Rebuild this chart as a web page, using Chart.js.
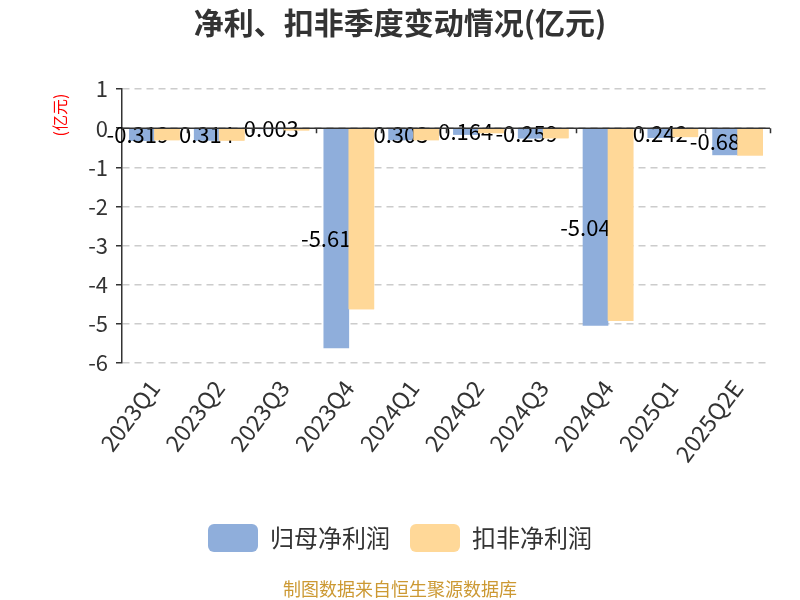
<!DOCTYPE html>
<html><head><meta charset="utf-8">
<script src="https://cdn.jsdelivr.net/npm/chart.js@4/dist/chart.umd.min.js"></script>
<style>html,body{margin:0;padding:0;background:#fff}canvas{display:block}</style>
</head><body>
<canvas id="c" width="800" height="600"></canvas>
<script>
const categories = ['2023Q1','2023Q2','2023Q3','2023Q4','2024Q1','2024Q2','2024Q3','2024Q4','2025Q1','2025Q2E'];
const netProfit = [-0.319,-0.314,-0.003,-5.613,-0.303,-0.164,-0.259,-5.042,-0.242,-0.683];
const deductedProfit = [-0.30,-0.31,-0.05,-4.62,-0.30,-0.12,-0.25,-4.92,-0.22,-0.69];
const yTicks = [1,0,-1,-2,-3,-4,-5,-6];
const seriesNames = ['归母净利润','扣非净利润'];

const FONT = '"Noto Sans CJK SC", "Noto Sans", sans-serif';

const extras = {
  id: 'extras',
  afterDatasetsDraw(chart) {
    const ctx = chart.ctx;
    const area = chart.chartArea;
    const y = chart.scales.y;
    const y0 = y.getPixelForValue(0);
    // value labels on blue bars
    const meta = chart.getDatasetMeta(0);
    ctx.save();
    ctx.font = '22px ' + FONT;
    ctx.fillStyle = '#000';
    ctx.textAlign = 'center';
    ctx.textBaseline = 'middle';
    meta.data.forEach((bar, i) => {
      const yy = (bar.y + bar.base) / 2;
      ctx.fillText(netProfit[i].toFixed(3), bar.x - 4, yy);
    });
    ctx.restore();
    // redraw orange bars on top of labels
    chart.getDatasetMeta(1).controller.draw();
    // x axis line at zero
    ctx.save();
    ctx.strokeStyle = '#333';
    ctx.lineWidth = 1.5;
    ctx.beginPath();
    ctx.moveTo(area.left, y0);
    ctx.lineTo(area.right, y0);
    const n = categories.length;
    const step = (area.right - area.left) / n;
    for (let i = 1; i <= n; i++) {
      const px = Math.round(area.left + step * i) + 0.5;
      ctx.moveTo(px, y0);
      ctx.lineTo(px, y0 + 5);
    }
    ctx.stroke();
    ctx.restore();
  },
  afterDraw(chart) {
    const ctx = chart.ctx;
    ctx.save();
    ctx.fillStyle = '#ff0000';
    ctx.font = '16px ' + FONT;
    ctx.textAlign = 'center';
    ctx.textBaseline = 'middle';
    ctx.translate(60, 115);
    ctx.rotate(-Math.PI / 2);
    ctx.fillText('(亿元)', 0, 0);
    ctx.restore();
    ctx.save();
    ctx.fillStyle = '#CC9933';
    ctx.font = '18px ' + FONT;
    ctx.textAlign = 'center';
    ctx.textBaseline = 'middle';
    ctx.fillText('制图数据来自恒生聚源数据库', 400, 589);
    ctx.restore();
  }
};

new Chart(document.getElementById('c'), {
  type: 'bar',
  data: {
    labels: categories,
    datasets: [
      { label: seriesNames[0], data: netProfit, backgroundColor: '#8FAEDB', borderWidth: 0,
        barThickness: 25, categoryPercentage: 0.87 },
      { label: seriesNames[1], data: deductedProfit, backgroundColor: '#FFD898', borderWidth: 0,
        barThickness: 25, categoryPercentage: 0.87 }
    ]
  },
  options: {
    responsive: false,
    devicePixelRatio: 1,
    animation: false,
    layout: { padding: { left: 15, right: 15, top: 0, bottom: 38 } },
    plugins: {
      title: {
        display: true,
        text: '净利、扣非季度变动情况(亿元)',
        color: '#333',
        font: { family: FONT, size: 30, weight: 'bold' },
        padding: { top: 5, bottom: 48 }
      },
      legend: {
        position: 'bottom',
        labels: {
          color: '#333',
          font: { family: FONT, size: 24 },
          boxWidth: 50, boxHeight: 28,
          useBorderRadius: true, borderRadius: 6,
          padding: 20
        }
      },
      tooltip: { enabled: false }
    },
    scales: {
      x: {
        grid: { display: false },
        border: { display: false },
        ticks: {
          color: '#333',
          font: { family: FONT, size: 23 },
          minRotation: 53, maxRotation: 53,
          padding: 4
        },
        afterFit(scale) { scale.height = 141; }
      },
      y: {
        min: -6, max: 1,
        afterBuildTicks(scale) { scale.ticks = yTicks.map(v => ({ value: v })); },
        ticks: {
          color: '#333',
          font: { family: FONT, size: 22 },
          padding: 8,
          callback: v => String(v)
        },
        grid: {
          color: '#cccccc',
          lineWidth: 1.5,
          tickLength: 6,
          tickColor: '#333',
          tickWidth: 1.5,
          tickBorderDash: [1, 0]
        },
        border: { display: true, color: '#333', width: 1.5, dash: [7, 5] },
        afterFit(scale) { scale.width = 107; }
      },
      yPad: {
        position: 'right',
        display: true,
        grid: { display: false, drawTicks: false },
        border: { display: false },
        ticks: { display: false },
        afterFit(scale) { scale.width = 15; }
      }
    }
  },
  plugins: [extras]
});
</script>
</body></html>
